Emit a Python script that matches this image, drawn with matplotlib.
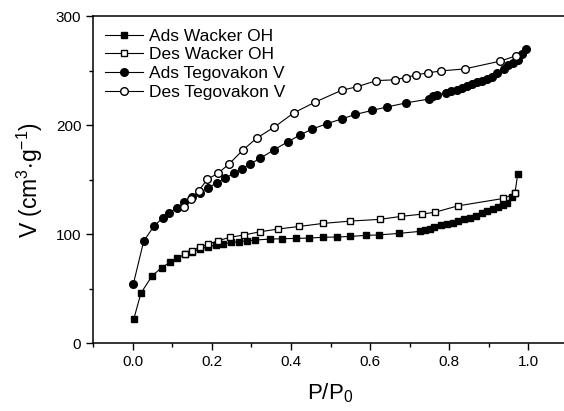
import matplotlib
matplotlib.use("Agg")
import matplotlib.pyplot as plt
from matplotlib.ticker import MultipleLocator

plt.rcParams['font.family'] = ['Liberation Sans', 'DejaVu Sans']
plt.rcParams['mathtext.default'] = 'regular'

# Wacker OH adsorption
ads_w_x = [0.003, 0.021, 0.049, 0.073, 0.094, 0.113, 0.133, 0.151, 0.170, 0.191, 0.210,
           0.229, 0.248, 0.269, 0.288, 0.310, 0.347, 0.378, 0.413, 0.445, 0.480, 0.517,
           0.550, 0.589, 0.622, 0.673, 0.727, 0.739, 0.752, 0.762, 0.780, 0.794, 0.809,
           0.823, 0.838, 0.853, 0.868, 0.882, 0.896, 0.910, 0.923, 0.937, 0.947, 0.958,
           0.966, 0.973]
ads_w_y = [22.3, 46.0, 61.7, 69.3, 74.2, 78.2, 81.6, 84.0, 86.2, 88.6, 90.1,
           91.0, 92.6, 93.1, 94.0, 94.7, 95.6, 95.9, 96.2, 96.5, 97.2, 97.5,
           98.0, 99.0, 99.4, 100.8, 102.7, 103.5, 104.4, 106.9, 108.2, 109.3, 110.6,
           112.4, 113.7, 114.8, 116.7, 119.2, 121.3, 123.4, 125.2, 126.8, 128.9, 133.8,
           137.5, 155.2]

# Wacker OH desorption
des_w_x = [0.966, 0.937, 0.821, 0.765, 0.731, 0.678, 0.625, 0.550, 0.482, 0.421,
           0.368, 0.322, 0.281, 0.245, 0.216, 0.191, 0.170, 0.150, 0.133]
des_w_y = [137.5, 132.9, 126.0, 120.3, 118.5, 116.4, 113.7, 112.1, 110.0, 107.2,
           104.8, 102.3, 99.3, 97.2, 94.0, 91.0, 88.0, 84.9, 82.0]

# Tegovakon V adsorption
ads_t_x = [0.002, 0.028, 0.054, 0.076, 0.091, 0.111, 0.131, 0.149, 0.170, 0.191,
           0.214, 0.234, 0.255, 0.276, 0.297, 0.323, 0.357, 0.393, 0.424, 0.452,
           0.491, 0.528, 0.563, 0.606, 0.643, 0.692, 0.748, 0.759, 0.769, 0.791,
           0.805, 0.820, 0.832, 0.844, 0.857, 0.870, 0.882, 0.895, 0.907, 0.920,
           0.938, 0.949, 0.962, 0.975, 0.983, 0.994]
ads_t_y = [54.6, 93.8, 107.5, 115.1, 119.2, 124.3, 129.2, 133.8, 138.0, 142.6,
           147.5, 151.5, 155.8, 160.0, 164.6, 169.9, 177.5, 185.1, 191.3, 196.4,
           201.5, 205.9, 210.0, 213.8, 216.9, 220.7, 224.1, 226.6, 228.1, 229.6,
           231.4, 232.8, 234.4, 236.5, 238.3, 239.5, 240.7, 242.9, 244.4, 248.0,
           252.0, 255.1, 256.9, 259.7, 265.8, 270.5]

# Tegovakon V desorption
des_t_x = [0.969, 0.928, 0.839, 0.780, 0.746, 0.717, 0.690, 0.662, 0.616, 0.568,
           0.528, 0.462, 0.407, 0.358, 0.314, 0.279, 0.244, 0.215, 0.189, 0.167,
           0.147, 0.129]
des_t_y = [263.8, 258.9, 251.8, 250.0, 248.2, 246.4, 243.9, 241.8, 241.1, 235.5,
           232.2, 221.5, 211.4, 198.4, 188.4, 177.5, 164.6, 155.8, 150.6, 139.9,
           132.3, 125.4]

fig = plt.figure(figsize=(5.64, 4.11), dpi=100)
ax = fig.add_axes([0.165, 0.165, 0.842, 0.795])

lw = 0.8
ax.plot(ads_w_x, ads_w_y, '-s', color='black', lw=lw, ms=5, mfc='black', mec='black',
        label='Ads Wacker OH')
ax.plot(des_w_x, des_w_y, '-s', color='black', lw=lw, ms=5, mfc='white', mec='black',
        label='Des Wacker OH')
ax.plot(ads_t_x, ads_t_y, '-o', color='black', lw=lw, ms=5.5, mfc='black', mec='black',
        label='Ads Tegovakon V')
ax.plot(des_t_x, des_t_y, '-o', color='black', lw=lw, ms=5.5, mfc='white', mec='black',
        label='Des Tegovakon V')

ax.set_xlim(-0.1, 1.1)
ax.set_ylim(0, 300)
ax.xaxis.set_major_locator(MultipleLocator(0.2))
ax.xaxis.set_minor_locator(MultipleLocator(0.1))
ax.yaxis.set_major_locator(MultipleLocator(100))
ax.yaxis.set_minor_locator(MultipleLocator(50))
ax.set_xticks([0.0, 0.2, 0.4, 0.6, 0.8, 1.0])
ax.set_xticklabels(['0.0', '0.2', '0.4', '0.6', '0.8', '1.0'])
ax.tick_params(which='major', direction='out', length=5, width=1, labelsize=11,
               top=False, right=False)
ax.tick_params(which='minor', direction='out', length=3, width=1, top=False, right=False)
for s in ax.spines.values():
    s.set_linewidth(1.1)

ax.set_xlabel('P/P$_0$', fontsize=16, labelpad=9)
ax.set_ylabel('V (cm$^{3}$$\\cdot$g$^{-1}$)', fontsize=16.5, labelpad=8)

ax.legend(loc='upper left', frameon=False, fontsize=12.5, handlelength=2.2,
          handletextpad=0.35, labelspacing=0.2, borderaxespad=0.3)

fig.savefig('out.png', dpi=100)
